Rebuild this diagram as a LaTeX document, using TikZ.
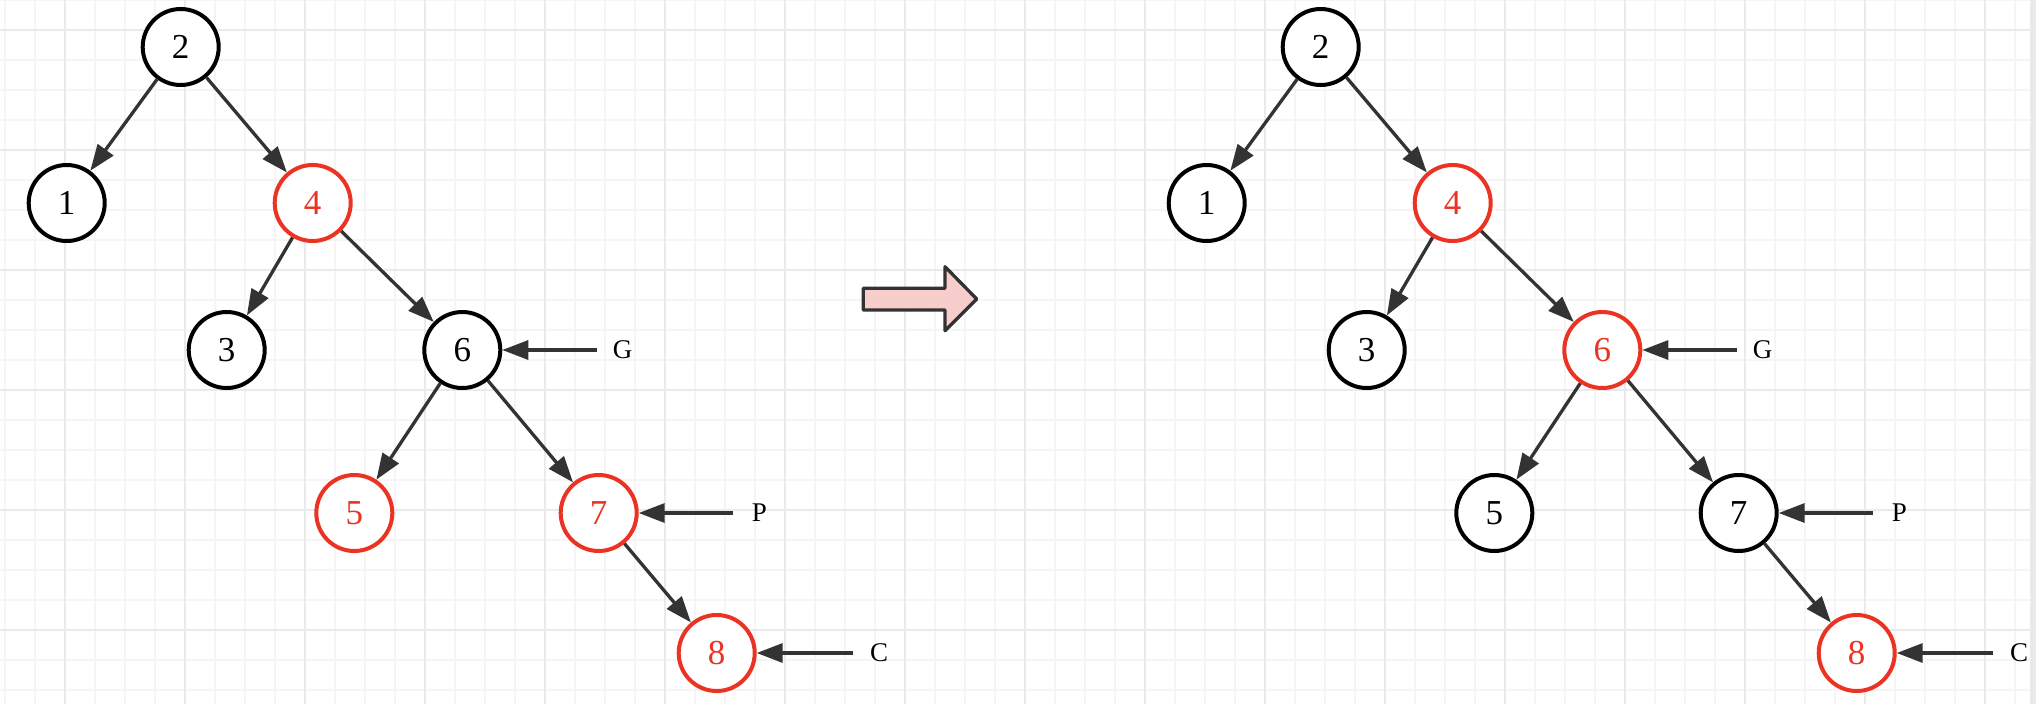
\documentclass[tikz,border=0pt]{standalone}
\usepackage{fontspec}
\setmainfont{Liberation Serif}
\usetikzlibrary{arrows.meta}
\definecolor{rbred}{RGB}{234,51,35}
\definecolor{arrgray}{RGB}{51,51,51}
\definecolor{minorgrid}{RGB}{245,245,245}
\definecolor{majorgrid}{RGB}{234,234,234}
\definecolor{blockfill}{RGB}{248,206,204}
\tikzset{
  treenode/.style={circle, draw=black, line width=4pt, minimum size=76pt, inner sep=0pt,
    font=\fontsize{35}{40}\selectfont, text=black, fill=white},
  rednode/.style={treenode, draw=rbred, text=rbred},
  arr/.style={draw=arrgray, line width=3.3pt, -{Triangle[length=26pt,width=19pt]}, arrgray},
  ptrlabel/.style={font=\fontsize{27}{32}\selectfont, inner sep=0pt, text=black},
}
\begin{document}
\begin{tikzpicture}[x=1pt,y=-1pt]
\useasboundingbox (0,0) rectangle (2036,704);
\fill[white] (0,0) rectangle (2036,704);
% grid
\foreach \x in {5,35,...,2030} \draw[minorgrid, line width=2pt] (\x,0) -- (\x,704);
\foreach \y in {0,30,...,704} \draw[minorgrid, line width=2pt] (0,\y) -- (2030,\y);
\foreach \x in {65,185,...,2030} \draw[majorgrid, line width=2pt] (\x,0) -- (\x,704);
\foreach \y in {30,150,...,704} \draw[majorgrid, line width=2pt] (0,\y) -- (2030,\y);
\fill[majorgrid] (2030,0) rectangle (2036,704);

% left tree
\node[treenode] (L2) at (180.7,47) {2};
\node[treenode] (L1) at (66.7,203) {1};
\node[rednode]  (L4) at (312.7,203) {4};
\node[treenode] (L3) at (226.7,350) {3};
\node[treenode] (L6) at (462.3,350) {6};
\node[rednode]  (L5) at (354.3,513) {5};
\node[rednode]  (L7) at (598.7,513) {7};
\node[rednode]  (L8) at (716.7,653) {8};
\draw[arr] (L2) -- (L1);
\draw[arr] (L2) -- (L4);
\draw[arr] (L4) -- (L3);
\draw[arr] (L4) -- (L6);
\draw[arr] (L6) -- (L5);
\draw[arr] (L6) -- (L7);
\draw[arr] (L7) -- (L8);
\coordinate (LGs) at (597,350);
\coordinate (LPs) at (733,513);
\coordinate (LCs) at (853,653);
\draw[arr] (LGs) -- (L6);
\draw[arr] (LPs) -- (L7);
\draw[arr] (LCs) -- (L8);
\node[ptrlabel] (LG) at (622.7,350) {G};
\node[ptrlabel] (LP) at (759.3,513) {P};
\node[ptrlabel] (LC) at (879,653) {C};

% block arrow
\draw[draw=arrgray, fill=blockfill, line width=3.3pt, line join=round]
  (863.3,288.3) -- (945,288.3) -- (945,266.7) -- (976.7,299) -- (945,330.7) -- (945,310) -- (863.3,310) -- cycle;

% right tree
\node[treenode] (R2) at (1320.7,47) {2};
\node[treenode] (R1) at (1206.7,203) {1};
\node[rednode]  (R4) at (1452.7,203) {4};
\node[treenode] (R3) at (1366.7,350) {3};
\node[rednode]  (R6) at (1602.3,350) {6};
\node[treenode] (R5) at (1494.3,513) {5};
\node[treenode] (R7) at (1738.7,513) {7};
\node[rednode]  (R8) at (1856.7,653) {8};
\draw[arr] (R2) -- (R1);
\draw[arr] (R2) -- (R4);
\draw[arr] (R4) -- (R3);
\draw[arr] (R4) -- (R6);
\draw[arr] (R6) -- (R5);
\draw[arr] (R6) -- (R7);
\draw[arr] (R7) -- (R8);
\coordinate (RGs) at (1737,350);
\coordinate (RPs) at (1873,513);
\coordinate (RCs) at (1993,653);
\draw[arr] (RGs) -- (R6);
\draw[arr] (RPs) -- (R7);
\draw[arr] (RCs) -- (R8);
\node[ptrlabel] (RG) at (1762.7,350) {G};
\node[ptrlabel] (RP) at (1899.3,513) {P};
\node[ptrlabel] (RC) at (2019,653) {C};
\end{tikzpicture}
\end{document}
